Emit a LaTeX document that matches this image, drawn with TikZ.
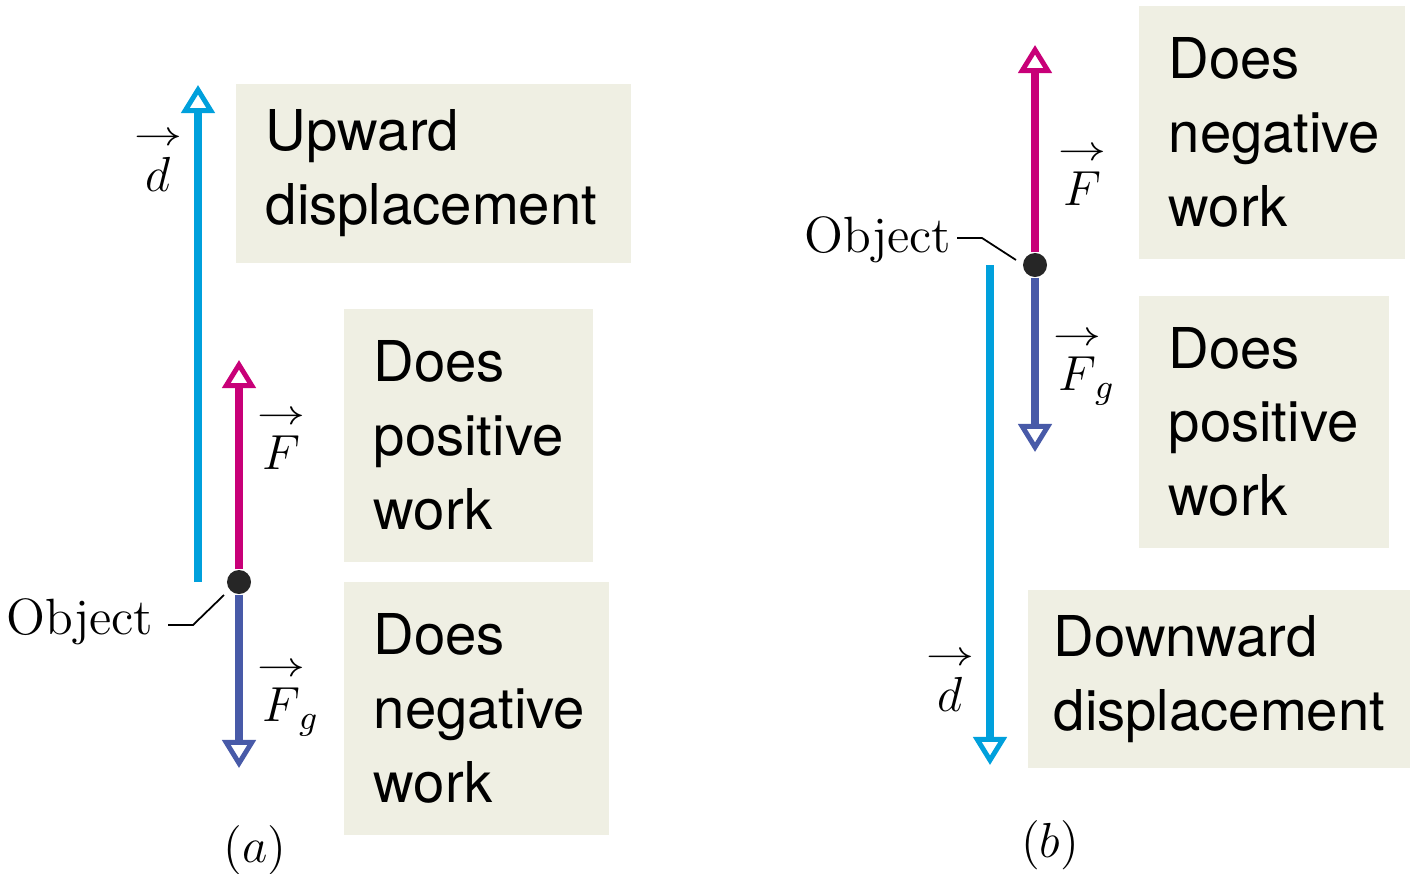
\RequirePackage{fix-cm}
\documentclass[tikz,border=0pt]{standalone}
\usepackage{amsmath}
\usepackage{fontspec}
\newfontfamily\boxfont{TeX Gyre Heros}
\usetikzlibrary{arrows.meta,calc}

\definecolor{dispblue}{RGB}{0,160,220}
\definecolor{forcemag}{RGB}{200,0,120}
\definecolor{gravblue}{RGB}{72,90,168}
\definecolor{boxbg}{RGB}{239,239,227}

% vector symbol with a short arrow set above the letter
\newcommand{\vecsym}[1]{\overset{\raisebox{0.5pt}{\scalebox{1.35}[1]{$\scriptstyle\rightarrow$}}}{#1}}

\begin{document}
\begin{tikzpicture}[x=0.01cm, y=-0.01cm,
	vec/.style={line width=2.3pt, -{Triangle[open, length=0.28cm, width=0.33cm, line width=1.4pt]}},
	dvec/.style={vec, draw=dispblue},
	fvec/.style={vec, draw=forcemag},
	gvec/.style={vec, draw=gravblue},
	dot/.style={circle, fill=black!85, minimum size=0.24cm, inner sep=0pt},
	textbox/.style={fill=boxbg, anchor=north west, inner xsep=0.3cm, inner ysep=0pt, align=left,
		font=\boxfont\fontsize{16}{21}\selectfont},
	vlabel/.style={inner sep=0pt, font=\fontsize{14}{16}\selectfont},
	objlabel/.style={inner sep=0pt, anchor=base east, font=\fontsize{14.5}{16}\selectfont},
	leader/.style={line width=0.5pt}]
	\useasboundingbox (0,0) rectangle (1410,873);

	% (a) upward displacement
	\node[textbox, text width=3.35cm, minimum height=1.79cm] (upbox) at (235,83) {Upward\\displacement};
	\node[textbox, text width=1.89cm, minimum height=2.53cm] (posA) at (343,308) {Does\\positive\\work};
	\node[textbox, text width=2.05cm, minimum height=2.53cm] (negA) at (343,581) {Does\\negative\\work};

	\coordinate (dA0) at (198,582);
	\coordinate (dA1) at (198,85);
	\coordinate (fA) at (239,360);
	\coordinate (gA) at (239,768);
	\node[dot] (objA) at (239,582) {};

	\draw[dvec] (dA0) -- (dA1);
	\draw[fvec] (objA) -- (fA);
	\draw[gvec] (objA) -- (gA);

	\node[vlabel] (dlabA) at (158,160) {$\vecsym{d}$};
	\node[vlabel] (flabA) at (281,438) {$\vecsym{F}$};
	\node[vlabel] (glabA) at (288,697) {$\vecsym{F}_{\!g}$};

	\node[objlabel] (objtA) at (154,634) {Object};
	\draw[leader] ($(objtA.base east)+(14,-9)$) -- ++(25,0) -- ($(objA)+(-15,13)$);

	\node[vlabel] (capA) at (255,850) {$(a)$};

	% (b) downward displacement
	\node[textbox, text width=2.06cm, minimum height=2.53cm] (negB) at (1138,5) {Does\\negative\\work};
	\node[textbox, text width=1.90cm, minimum height=2.52cm] (posB) at (1138,295) {Does\\positive\\work};
	\node[textbox, text width=3.31cm, inner xsep=0.26cm, minimum height=1.78cm] (downbox) at (1027,589) {Downward\\displacement};

	\coordinate (dB0) at (990,265);
	\coordinate (dB1) at (990,765);
	\coordinate (fB) at (1035,45);
	\coordinate (gB) at (1035,452);
	\node[dot] (objB) at (1035,265) {};

	\draw[dvec] (dB0) -- (dB1);
	\draw[fvec] (objB) -- (fB);
	\draw[gvec] (objB) -- (gB);

	\node[vlabel] (dlabB) at (950,680) {$\vecsym{d}$};
	\node[vlabel] (flabB) at (1082,174) {$\vecsym{F}$};
	\node[vlabel] (glabB) at (1084,366) {$\vecsym{F}_{\!g}$};

	\node[objlabel] (objtB) at (952,252) {Object};
	\draw[leader] ($(objtB.base east)+(5,-14)$) -- ++(25,0) -- ($(objB)+(-19,-5)$);

	\node[vlabel] (capB) at (1050,845) {$(b)$};
\end{tikzpicture}
\end{document}
